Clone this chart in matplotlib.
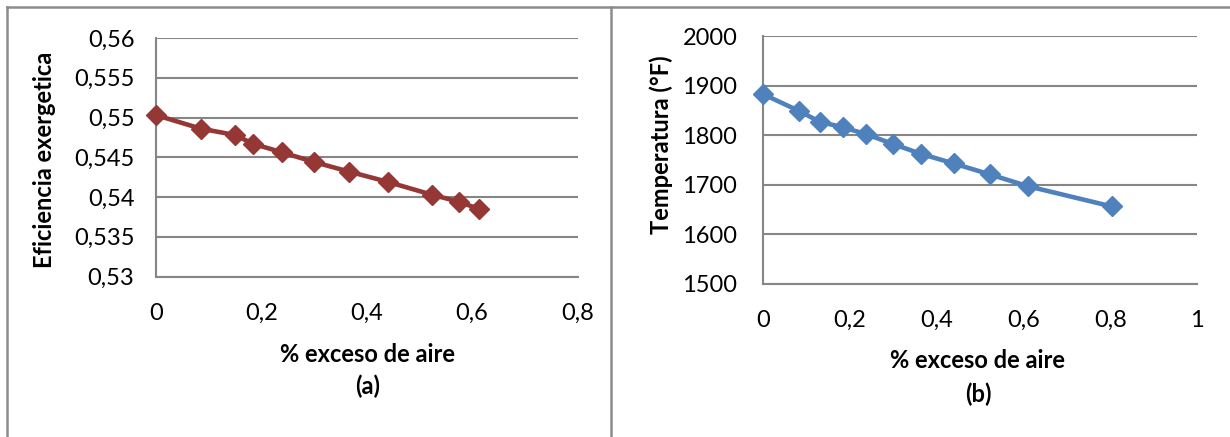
import matplotlib
matplotlib.use("Agg")
import matplotlib.pyplot as plt
from matplotlib.lines import Line2D
from matplotlib.ticker import FuncFormatter

# Exergetic efficiency vs. excess air
exceso_a = [0.0, 0.085, 0.150, 0.184, 0.240, 0.300, 0.366, 0.440, 0.523, 0.575, 0.613]
eficiencia = [0.5503, 0.5486, 0.5478, 0.5467, 0.5456, 0.5444, 0.5432, 0.5419, 0.5403, 0.5394, 0.5385]

# Flame temperature vs. excess air
exceso_b = [0.0, 0.083, 0.131, 0.184, 0.238, 0.300, 0.365, 0.439, 0.522, 0.610, 0.804]
temperatura = [1883, 1849, 1827, 1816, 1802, 1782, 1762, 1743, 1721, 1697, 1656]

ticks_xa = [0, 0.2, 0.4, 0.6, 0.8]
ticks_ya = [0.53, 0.535, 0.54, 0.545, 0.55, 0.555, 0.56]
ticks_xb = [0, 0.2, 0.4, 0.6, 0.8, 1]
ticks_yb = [1500, 1600, 1700, 1800, 1900, 2000]

W, H = 1230, 437
fig = plt.figure(figsize=(W / 100, H / 100), dpi=100)
plt.rcParams['font.family'] = ['Lato', 'DejaVu Sans']

GRID = '#868686'
FS = 17


def coma(v, _):
    s = ('%g' % v)
    return s.replace('.', ',')


def estilo(ax, xt, yt):
    ax.set_xticks(xt)
    ax.set_yticks(yt)
    ax.set_xlim(xt[0], xt[-1])
    ax.set_ylim(yt[0], yt[-1])
    ax.xaxis.set_major_formatter(FuncFormatter(coma))
    ax.yaxis.set_major_formatter(FuncFormatter(coma))
    ax.grid(axis='y', color=GRID, linewidth=1.5)
    ax.set_axisbelow(True)
    for s in ('top', 'right'):
        ax.spines[s].set_visible(False)
    ax.spines['left'].set_color(GRID)
    ax.spines['left'].set_linewidth(1.5)
    ax.spines['bottom'].set_color(GRID)
    ax.spines['bottom'].set_linewidth(1.5)
    ax.tick_params(length=0, labelsize=FS, colors='black')


def px_axes(x0, x1, y0, y1):
    return fig.add_axes([x0 / W, 1 - y1 / H, (x1 - x0) / W, (y1 - y0) / H])


# Panel (a)
ax1 = px_axes(156, 577.5, 38, 276.5)
estilo(ax1, ticks_xa, ticks_ya)
ax1.tick_params(axis='y', pad=15.5)
ax1.tick_params(axis='x', pad=19)
ax1.plot(exceso_a, eficiencia, color='#953735', linewidth=3.3,
         marker='D', markersize=10, clip_on=False, zorder=3)
fig.text(368 / W, 1 - 355 / H, '% exceso de aire', ha='center', va='center',
         fontsize=FS, fontweight='bold')
fig.text(368 / W, 1 - 386 / H, '(a)', ha='center', va='center',
         fontsize=FS, fontweight='bold')
fig.text(45 / W, 1 - 160 / H, 'Eficiencia exergetica', ha='center', va='center',
         rotation=90, fontsize=FS, fontweight='bold')

# Panel (b)
ax2 = px_axes(763, 1197, 36.2, 283.7)
estilo(ax2, ticks_xb, ticks_yb)
ax2.tick_params(axis='y', pad=18.5)
ax2.tick_params(axis='x', pad=19)
ax2.plot(exceso_b, temperatura, color='#4F81BD', linewidth=3.3,
         marker='D', markersize=10, clip_on=False, zorder=3)
fig.text(978 / W, 1 - 361 / H, '% exceso de aire', ha='center', va='center',
         fontsize=FS, fontweight='bold')
fig.text(978 / W, 1 - 394 / H, '(b)', ha='center', va='center',
         fontsize=FS, fontweight='bold')
fig.text(661 / W, 1 - 145 / H, 'Temperatura (°F)', ha='center', va='center',
         rotation=90, fontsize=FS, fontweight='bold')

# Frame lines around the two panels
def linea(xs, ys):
    fig.add_artist(Line2D([x / W for x in xs], [1 - y / H for y in ys],
                          color='#8C8C8C', linewidth=1.8))

linea([7, 1230], [7, 7])
linea([7, 7], [7, 437])
linea([610.5, 610.5], [7, 437])

fig.savefig('out.png', dpi=100)
